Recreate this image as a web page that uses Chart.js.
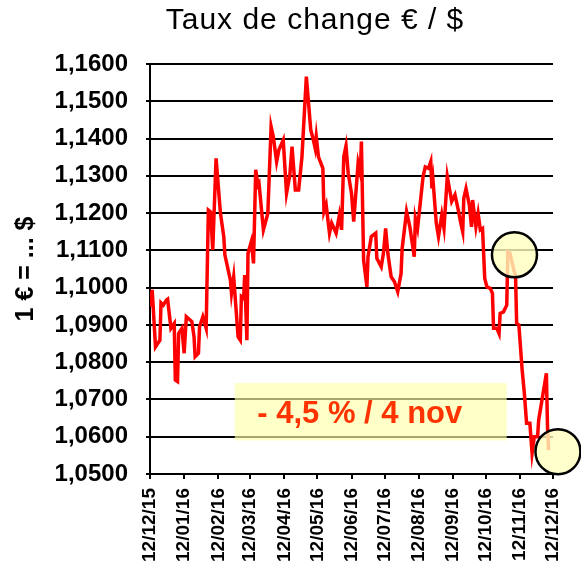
<!DOCTYPE html>
<html lang="fr">
<head>
<meta charset="utf-8">
<title>Taux de change € / $</title>
<script src="https://cdn.jsdelivr.net/npm/chart.js@4.4.1/dist/chart.umd.min.js"></script>
<style>
  html, body { margin: 0; padding: 0; background: #fff; }
</style>
</head>
<body>
<canvas id="graphique-change" width="581" height="566"></canvas>
<script>
// Jours écoulés depuis le 12/12/2015
const jours = [
  0, 2, 5, 9, 10, 12, 15, 16, 19, 22, 23, 25, 26, 29, 31, 33, 38, 40, 41, 44,
  45, 48, 51, 53, 55, 57, 60, 64, 67, 68, 73, 74, 76, 80, 82, 83, 85, 86, 88, 89,
  92, 94, 96, 98, 99, 103, 107, 110, 112, 115, 117, 121, 124, 127, 129, 132, 135, 138, 142, 146,
  148, 150, 151, 153, 157, 158, 160, 163, 165, 169, 172, 174, 176, 178, 180, 183, 185, 189, 191, 192,
  194, 197, 198, 201, 205, 206, 210, 212, 214, 216, 219, 222, 225, 228, 229, 233, 236, 240, 241, 243,
  248, 250, 253, 255, 256, 257, 260, 262, 265, 267, 270, 274, 277, 280, 282, 284, 285, 287, 290, 292,
  293, 296, 298, 300, 302, 304, 306, 309, 311, 312, 315, 317, 318, 321, 324, 325, 327, 329, 332, 333,
  335, 338, 340, 342, 345, 347, 349, 352, 353, 360, 361, 362
];

// Valeur de 1 € en $
const taux = [
  1.0949, 1.0994, 1.0841, 1.0859, 1.0959, 1.0953, 1.0967, 1.0969, 1.0891, 1.0904,
  1.0752, 1.0748, 1.0877, 1.0891, 1.0824, 1.0922, 1.0909, 1.0868, 1.0815, 1.0824,
  1.0895, 1.0922, 1.0891, 1.1208, 1.1203, 1.1101, 1.1347, 1.1199, 1.1137, 1.1088,
  1.1020, 1.0985, 1.1029, 1.0868, 1.0859, 1.0976, 1.0971, 1.1034, 1.0859, 1.1092,
  1.1123, 1.1065, 1.1316, 1.1275, 1.1280, 1.1155, 1.1199, 1.1432, 1.1405, 1.1338,
  1.1369, 1.1396, 1.1253, 1.1302, 1.1378, 1.1262, 1.1262, 1.1351, 1.1566, 1.1423,
  1.1401, 1.1374, 1.1405, 1.1351, 1.1320, 1.1204, 1.1222, 1.1146, 1.1173, 1.1146,
  1.1195, 1.1155, 1.1351, 1.1380, 1.1307, 1.1253, 1.1177, 1.1334, 1.1307, 1.1392,
  1.1074, 1.1002, 1.1083, 1.1137, 1.1146, 1.1079, 1.1056, 1.1092, 1.1159, 1.1092,
  1.1029, 1.1016, 1.0989, 1.1038, 1.1105, 1.1204, 1.1163, 1.1083, 1.1186, 1.1159,
  1.1298, 1.1324, 1.1320, 1.1338, 1.1266, 1.1289, 1.1173, 1.1137, 1.1195, 1.1159,
  1.1298, 1.1231, 1.1249, 1.1208, 1.1177, 1.1150, 1.1240, 1.1266, 1.1222, 1.1163,
  1.1235, 1.1163, 1.1199, 1.1155, 1.1159, 1.1025, 1.1002, 1.0998, 1.0985, 1.0891,
  1.0891, 1.0877, 1.0931, 1.0935, 1.0953, 1.1096, 1.1092, 1.1065, 1.1029, 1.0904,
  1.0900, 1.0779, 1.0716, 1.0636, 1.0636, 1.0556, 1.0600, 1.0600, 1.0645, 1.0770,
  1.0627, 1.0564
];

// Graduations de l'axe des dates
const tickJours = [0, 31, 62, 91, 122, 152, 183, 213, 244, 275, 305, 336, 366];
const tickLabels = [
  '12/12/15', '12/01/16', '12/02/16', '12/03/16', '12/04/16', '12/05/16', '12/06/16',
  '12/07/16', '12/08/16', '12/09/16', '12/10/16', '12/11/16', '12/12/16'
];

const tauxMin = 1.05;
const tauxMax = 1.16;
const tauxPas = 0.01;

const titre = 'Taux de change € / $';
const titreAxeY = '1 € = ... $';
const texteBaisse = '- 4,5 % / 4 nov';

// Zones mises en évidence (en jours / taux)
const cercles = [
  { jour: 331, taux: 1.1088 },
  { jour: 370.5, taux: 1.0560 }
];
const cadre = { jourDebut: 77, jourFin: 324, tauxBas: 1.0590, tauxHaut: 1.0744 };
const positionTexte = { jour: 190.5, taux: 1.0660 };

const police = "'Liberation Sans', Arial, sans-serif";

// Dessin du titre, du cadre jaune et des cercles
const decor = {
  id: 'decor',
  beforeDatasetsDraw(chart) {
    const { ctx, scales: { x, y } } = chart;
    const x1 = x.getPixelForValue(cadre.jourDebut);
    const x2 = x.getPixelForValue(cadre.jourFin);
    const y1 = y.getPixelForValue(cadre.tauxHaut);
    const y2 = y.getPixelForValue(cadre.tauxBas);
    ctx.save();
    ctx.fillStyle = 'rgba(255, 255, 170, 0.65)';
    ctx.fillRect(x1, y1, x2 - x1, y2 - y1);
    ctx.restore();
  },
  afterDatasetsDraw(chart) {
    const { ctx, scales: { x, y } } = chart;
    ctx.save();
    cercles.forEach(c => {
      ctx.beginPath();
      ctx.arc(x.getPixelForValue(c.jour), y.getPixelForValue(c.taux), 22.5, 0, Math.PI * 2);
      ctx.fillStyle = 'rgba(255, 255, 190, 0.8)';
      ctx.fill();
      ctx.lineWidth = 2.5;
      ctx.strokeStyle = '#000';
      ctx.stroke();
    });

    ctx.font = `bold 31px ${police}`;
    ctx.fillStyle = '#ff3300';
    ctx.textAlign = 'center';
    ctx.textBaseline = 'middle';
    ctx.fillText(texteBaisse, x.getPixelForValue(positionTexte.jour), y.getPixelForValue(positionTexte.taux));
    ctx.restore();
  },
  afterDraw(chart) {
    const { ctx } = chart;
    ctx.save();
    ctx.font = `30px ${police}`;
    ctx.letterSpacing = '1px';
    ctx.fillStyle = '#000';
    ctx.textAlign = 'center';
    ctx.textBaseline = 'alphabetic';
    ctx.fillText(titre, 315, 29);
    ctx.restore();
  }
};

const graphique = new Chart(document.getElementById('graphique-change'), {
  type: 'line',
  data: {
    datasets: [{
      data: jours.map((j, i) => ({ x: j, y: taux[i] })),
      borderColor: '#ff0000',
      borderWidth: 3.5,
      pointRadius: 0,
      tension: 0,
      fill: false
    }]
  },
  options: {
    responsive: false,
    animation: false,
    layout: { padding: { top: 64, right: 28, bottom: 0, left: 0 } },
    plugins: {
      legend: { display: false },
      tooltip: { enabled: false }
    },
    scales: {
      x: {
        type: 'linear',
        min: 0,
        max: 366,
        afterBuildTicks: (scale) => {
          scale.ticks = tickJours.map(v => ({ value: v }));
        },
        afterFit: (scale) => {
          scale.height = 92;
          scale.paddingLeft = 0;
          scale.paddingRight = 0;
        },
        grid: { drawOnChartArea: false, drawTicks: true, tickLength: 5, color: '#000', lineWidth: 2 },
        border: { display: true, color: '#000', width: 2 },
        ticks: {
          autoSkip: false,
          maxRotation: 90,
          minRotation: 90,
          padding: 9,
          color: '#000',
          font: { family: police, size: 19, weight: 'bold' },
          callback: (value) => {
            const i = tickJours.indexOf(value);
            return i >= 0 ? tickLabels[i] : '';
          }
        }
      },
      y: {
        min: tauxMin,
        max: tauxMax,
        afterFit: (scale) => { scale.width = 150; },
        grid: { color: '#000', lineWidth: 2, tickLength: 4 },
        border: { display: true, color: '#000', width: 2 },
        ticks: {
          stepSize: tauxPas,
          padding: 18,
          color: '#000',
          font: { family: police, size: 24, weight: 'bold' },
          callback: (value) => value.toFixed(4).replace('.', ',')
        },
        title: {
          display: true,
          text: titreAxeY,
          color: '#000',
          font: { family: police, size: 25, weight: 'bold' },
          padding: { top: 11, bottom: 0 }
        }
      }
    }
  },
  plugins: [decor]
});
</script>
</body>
</html>
